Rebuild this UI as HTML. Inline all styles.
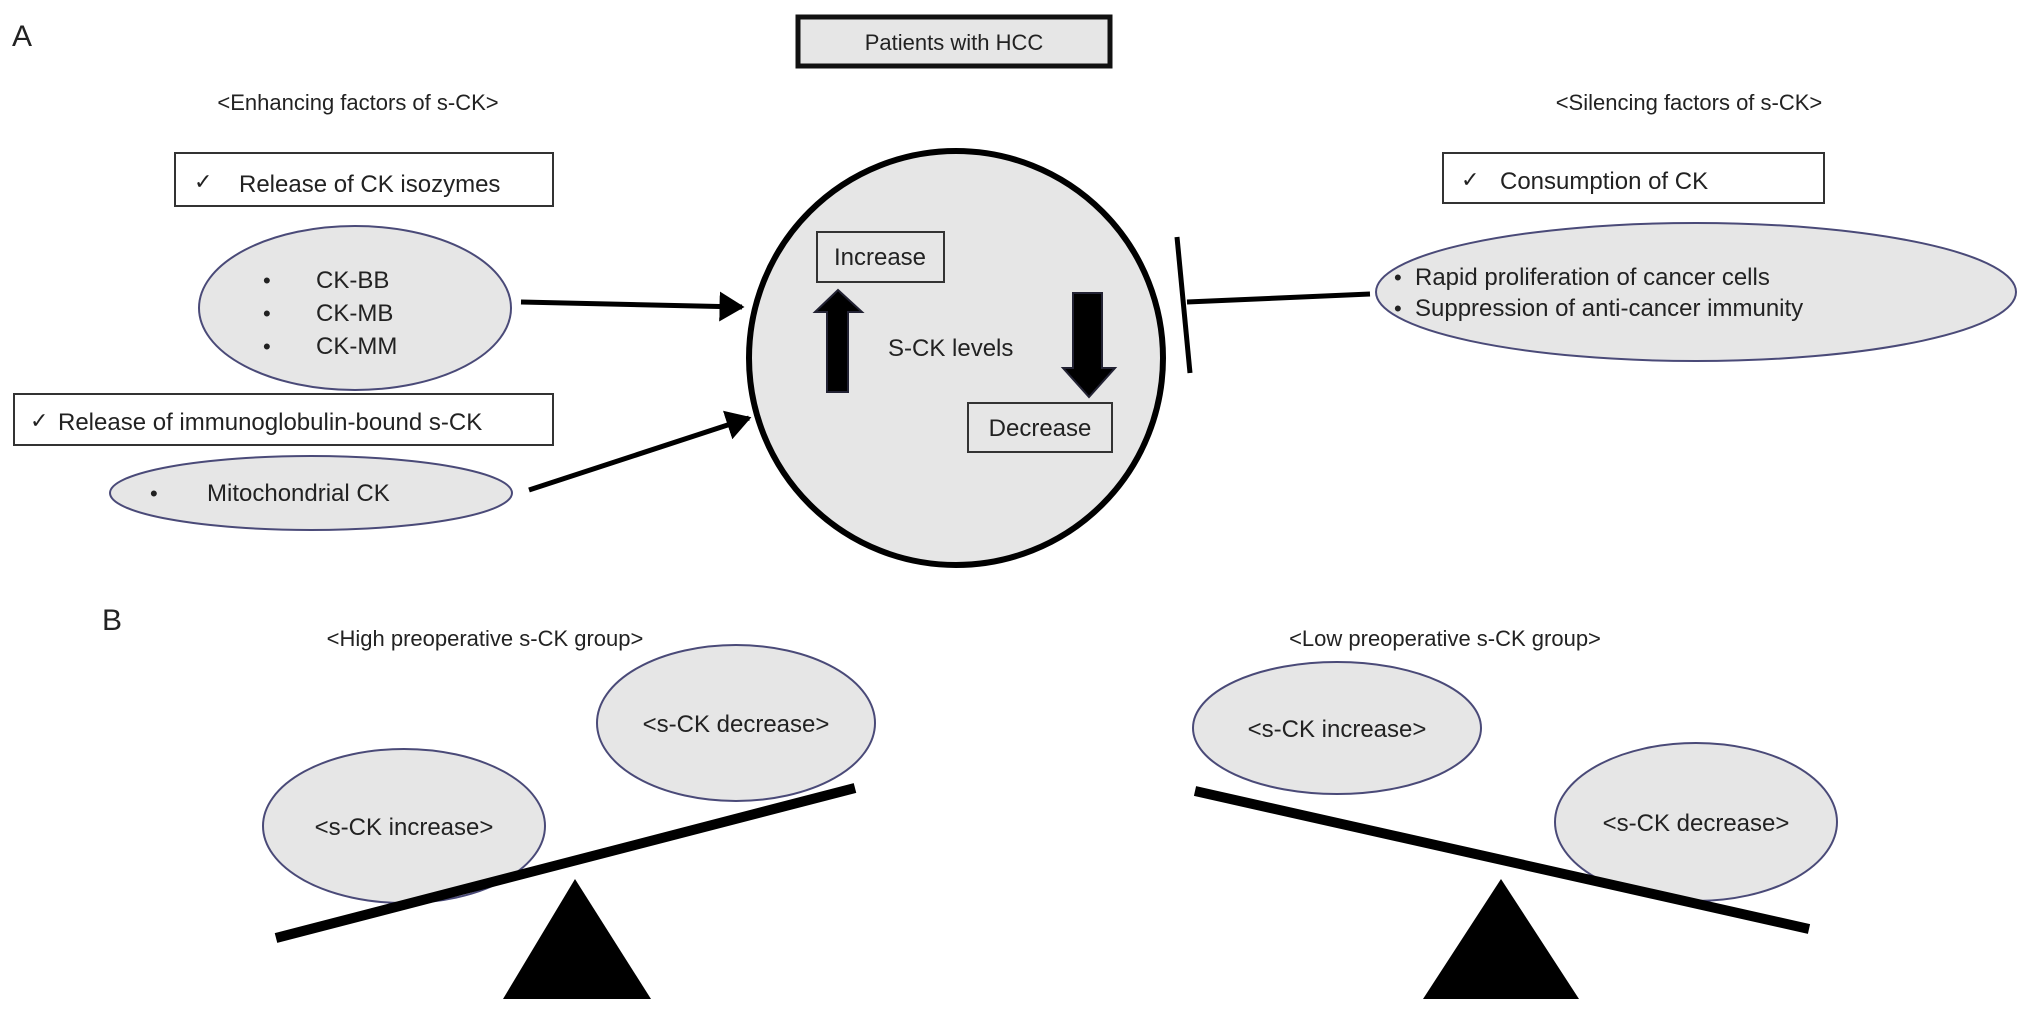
<!DOCTYPE html>
<html><head><meta charset="utf-8"><style>
html,body{margin:0;padding:0;background:#fff;}
svg{display:block;}
text{font-family:"Liberation Sans",Arial,sans-serif;fill:#222;}
</style></head><body>
<svg width="2032" height="1014" viewBox="0 0 2032 1014" xmlns="http://www.w3.org/2000/svg">
<defs>
<marker id="ah" markerWidth="6" markerHeight="6" refX="4.5" refY="3" orient="auto" markerUnits="strokeWidth">
<path d="M0,0 L5,3 L0,6 Z" fill="#000"/></marker>
</defs>
<text x="12" y="46" font-size="30">A</text>
<rect x="798" y="17" width="312" height="49" fill="#e6e6e6" stroke="#111" stroke-width="5"/>
<text x="954" y="50" font-size="22" text-anchor="middle">Patients with HCC</text>

<text x="358" y="110" font-size="22" text-anchor="middle">&lt;Enhancing factors of s-CK&gt;</text>
<rect x="175" y="153" width="378" height="53" fill="#fff" stroke="#333" stroke-width="2"/>
<text x="194" y="189" font-size="22">✓</text>
<text x="239" y="192" font-size="24">Release of CK isozymes</text>
<ellipse cx="355" cy="308" rx="156" ry="82" fill="#e6e6e6" stroke="#4a4a78" stroke-width="2"/>
<text x="263" y="288" font-size="22">•</text><text x="316" y="288" font-size="24">CK-BB</text>
<text x="263" y="321" font-size="22">•</text><text x="316" y="321" font-size="24">CK-MB</text>
<text x="263" y="354" font-size="22">•</text><text x="316" y="354" font-size="24">CK-MM</text>

<rect x="14" y="394" width="539" height="51" fill="#fff" stroke="#333" stroke-width="2"/>
<text x="30" y="428" font-size="22">✓</text>
<text x="58" y="430" font-size="24">Release of immunoglobulin-bound s-CK</text>
<ellipse cx="311" cy="493" rx="201" ry="37" fill="#e6e6e6" stroke="#4a4a78" stroke-width="2"/>
<text x="150" y="501" font-size="22">•</text><text x="207" y="501" font-size="24">Mitochondrial CK</text>

<line x1="521" y1="302" x2="742" y2="307" stroke="#000" stroke-width="5" marker-end="url(#ah)"/>
<line x1="529" y1="490" x2="749" y2="418" stroke="#000" stroke-width="5" marker-end="url(#ah)"/>

<circle cx="956" cy="358" r="207" fill="#e6e6e6" stroke="#000" stroke-width="6"/>
<rect x="817" y="232" width="127" height="50" fill="none" stroke="#333" stroke-width="2"/>
<text x="880" y="265" font-size="24" text-anchor="middle">Increase</text>
<path d="M827,392 L848,392 L848,312 L862,312 L838,290 L815,312 L827,312 Z" fill="#000" stroke="#223" stroke-width="2"/>
<text x="888" y="356" font-size="24">S-CK levels</text>
<path d="M1073,293 L1102,293 L1102,368 L1115,368 L1089,397 L1063,368 L1073,368 Z" fill="#000" stroke="#223" stroke-width="2"/>
<rect x="968" y="403" width="144" height="49" fill="none" stroke="#333" stroke-width="2"/>
<text x="1040" y="436" font-size="24" text-anchor="middle">Decrease</text>

<line x1="1370" y1="294" x2="1187" y2="302" stroke="#000" stroke-width="5"/>
<line x1="1177" y1="237" x2="1190" y2="373" stroke="#000" stroke-width="5"/>

<text x="1689" y="110" font-size="22" text-anchor="middle">&lt;Silencing factors of s-CK&gt;</text>
<rect x="1443" y="153" width="381" height="50" fill="#fff" stroke="#333" stroke-width="2"/>
<text x="1461" y="187" font-size="22">✓</text>
<text x="1500" y="189" font-size="24">Consumption of CK</text>
<ellipse cx="1696" cy="292" rx="320" ry="69" fill="#e6e6e6" stroke="#4a4a78" stroke-width="2"/>
<text x="1394" y="285" font-size="22">•</text><text x="1415" y="285" font-size="24">Rapid proliferation of cancer cells</text>
<text x="1394" y="316" font-size="22">•</text><text x="1415" y="316" font-size="24">Suppression of anti-cancer immunity</text>

<text x="102" y="630" font-size="30">B</text>
<text x="485" y="646" font-size="22" text-anchor="middle">&lt;High preoperative s-CK group&gt;</text>
<ellipse cx="736" cy="723" rx="139" ry="78" fill="#e6e6e6" stroke="#4a4a78" stroke-width="2"/>
<text x="736" y="732" font-size="24" text-anchor="middle">&lt;s-CK decrease&gt;</text>
<ellipse cx="404" cy="826" rx="141" ry="77" fill="#e6e6e6" stroke="#4a4a78" stroke-width="2"/>
<text x="404" y="835" font-size="24" text-anchor="middle">&lt;s-CK increase&gt;</text>
<line x1="276" y1="938" x2="855" y2="788" stroke="#000" stroke-width="10"/>
<polygon points="575,879 651,999 503,999" fill="#000"/>

<text x="1445" y="646" font-size="22" text-anchor="middle">&lt;Low preoperative s-CK group&gt;</text>
<ellipse cx="1337" cy="728" rx="144" ry="66" fill="#e6e6e6" stroke="#4a4a78" stroke-width="2"/>
<text x="1337" y="737" font-size="24" text-anchor="middle">&lt;s-CK increase&gt;</text>
<ellipse cx="1696" cy="822" rx="141" ry="79" fill="#e6e6e6" stroke="#4a4a78" stroke-width="2"/>
<text x="1696" y="831" font-size="24" text-anchor="middle">&lt;s-CK decrease&gt;</text>
<line x1="1195" y1="791" x2="1809" y2="929" stroke="#000" stroke-width="10"/>
<polygon points="1501,879 1579,999 1423,999" fill="#000"/>
</svg>
</body></html>
